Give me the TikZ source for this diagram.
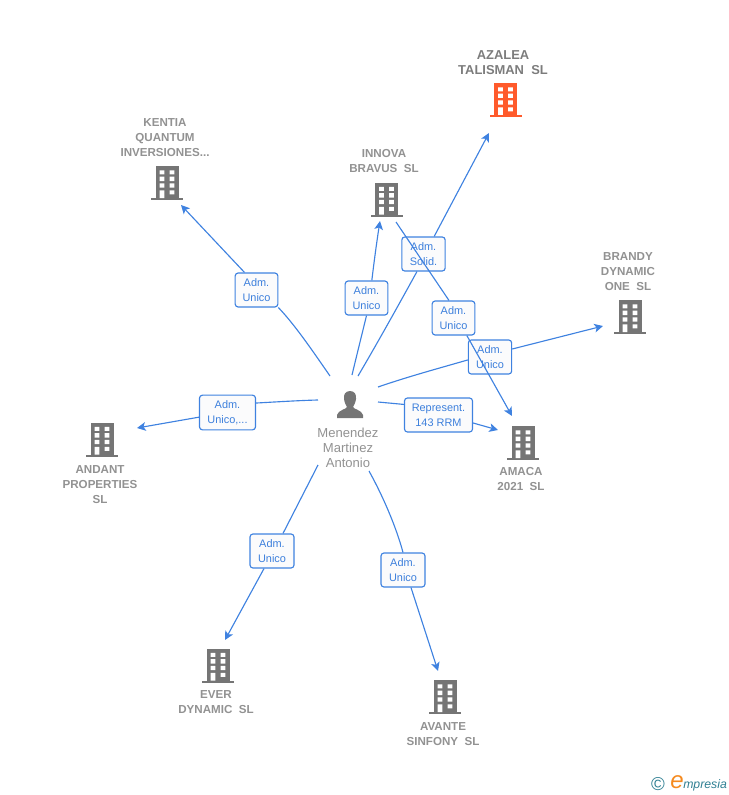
\documentclass[tikz,border=0pt]{standalone}
\usepackage{fontspec}
\setmainfont{Liberation Sans}
\usetikzlibrary{arrows.meta}
\definecolor{linkblue}{HTML}{3F82E0}
\definecolor{txtblue}{HTML}{3C7FDC}
\definecolor{labgrey}{HTML}{929292}
\definecolor{icongrey}{HTML}{757575}
\definecolor{iconred}{HTML}{FF5A2B}
\definecolor{logoteal}{HTML}{2F7F92}
\definecolor{logoorange}{HTML}{F58A1F}
\definecolor{boxfill}{HTML}{FBFBFC}
\tikzset{
  x=0.75pt,y=-0.75pt,
  link/.style={draw=linkblue,line width=0.85pt},
  tip/.style={link,-{Stealth[length=6.5pt,width=6.5pt,inset=1.6pt]}},
  tag/.style={draw=linkblue,line width=0.85pt,rounded corners=2.2pt,fill=boxfill,
    text=txtblue,font=\fontsize{8.2}{11.25}\selectfont,align=center,inner sep=0pt},
  name lab/.style={text=labgrey,font=\fontsize{8.7}{11.25}\selectfont\bfseries,align=center,inner sep=0pt},
  main lab/.style={name lab,text=labgrey!85!black,font=\fontsize{9.7}{11.25}\selectfont\bfseries},
  person lab/.style={text=labgrey,font=\fontsize{9.8}{11.25}\selectfont,align=center,inner sep=0pt},
  pics/bldg/.style={code={
    \fill[#1] (-11.5,-17) rectangle (11.5,15);
    \fill[#1] (-16,15) rectangle (16,17);
    \fill[white] (-7.3,-12.7) rectangle (-2.6,-8.7) (2.7,-12.7) rectangle (7.4,-8.7)
      (-7.3,-6.3) rectangle (-2.6,-2) (2.7,-6.3) rectangle (7.4,-2)
      (-7.3,0.3) rectangle (-2.6,4.7) (2.7,0.3) rectangle (7.4,4.7)
      (-7.3,7.3) rectangle (-2.6,15) (2.7,7.3) rectangle (7.4,11.3);
  }},
}
\begin{document}
\begin{tikzpicture}
\useasboundingbox (0,0) rectangle (728,795);
% free ends
\coordinate (sKentia) at (330,376);
\coordinate (sInnova) at (352,375);
\coordinate (sAzalea) at (358,376);
\coordinate (sBrandy) at (378,387);
\coordinate (sAmaca) at (378,402);
\coordinate (sAndant) at (318,400);
\coordinate (sEver) at (318,465);
\coordinate (sAvante) at (369,471);
\coordinate (tKentia) at (181,205);
\coordinate (tInnova) at (380,221);
\coordinate (tAzalea) at (489,133);
\coordinate (tBrandy) at (603,326);
\coordinate (tAmacaA) at (498,430);
\coordinate (tAmacaB) at (512,416);
\coordinate (tAndant) at (137,428);
\coordinate (tEver) at (225,640);
\coordinate (tAvante) at (438,671);
\coordinate (sInnovaOut) at (396,222);
% icons
\pic at (505.5,100) {bldg=iconred};
\pic at (386.5,199.5) {bldg=icongrey};
\pic at (167,183) {bldg=icongrey};
\pic at (630,317) {bldg=icongrey};
\pic at (523,443) {bldg=icongrey};
\pic at (102,439.5) {bldg=icongrey};
\pic at (218,665.5) {bldg=icongrey};
\pic at (445,697) {bldg=icongrey};
% person icon
\fill[icongrey] (350,391) .. controls (345,391) and (343.5,395) .. (344,399)
  .. controls (344.5,403) and (346,405) .. (347,407)
  .. controls (347,409) and (338,410) .. (337,415)
  -- (337,418) -- (363,418) -- (363,415)
  .. controls (362,410) and (353,409) .. (353,407)
  .. controls (354,405) and (355.5,403) .. (356,399)
  .. controls (356.5,395) and (355,391) .. (350,391) -- cycle;
% labels of the nodes
\node[main lab] (azalea) at (503,63) {AZALEA\\TALISMAN\ \ SL};
\node[name lab] (innova) at (384,161) {INNOVA\\BRAVUS\ \ SL};
\node[name lab] (kentia) at (165,137.5) {KENTIA\\QUANTUM\\INVERSIONES...};
\node[name lab] (brandy) at (628,271.5) {BRANDY\\DYNAMIC\\ONE\ \ SL};
\node[name lab] (amaca) at (521,479) {AMACA\\2021\ \ SL};
\node[name lab] (andant) at (100,484.5) {ANDANT\\PROPERTIES\\SL};
\node[name lab] (ever) at (216,702) {EVER\\DYNAMIC\ \ SL};
\node[name lab] (avante) at (443,734) {AVANTE\\SINFONY\ \ SL};
\node[person lab] (person) at (348,448) {Menendez\\Martinez\\Antonio};
% tags and links, in the order they overlap
\node[tag,minimum width=32pt,minimum height=25.5pt] (lKentia) at (256.5,290) {Adm.\\Unico};
\draw[link] (sKentia) .. controls (312,350) and (295,325) .. (lKentia.south east);
\draw[tip] ([xshift=-9pt]lKentia.north) -- (tKentia);
\node[tag,minimum width=32pt,minimum height=25.5pt] (lInnova) at (366.5,298) {Adm.\\Unico};
\draw[link] (sInnova) .. controls (358,350) and (363,330) .. (lInnova.south);
\draw[tip] ([xshift=4pt]lInnova.north) .. controls (374,262) and (377,240) .. (tInnova);
\node[tag,minimum width=32.5pt,minimum height=25.5pt] (lAzalea) at (423.5,254) {Adm.\\Solid.};
\draw[link] (sAzalea) .. controls (378,342) and (398,306) .. ([xshift=-4.9pt]lAzalea.south);
\draw[tip] ([xshift=8pt]lAzalea.north) -- (tAzalea);
\node[tag,minimum width=32.5pt,minimum height=25.5pt] (lBrandy) at (490,357) {Adm.\\Unico};
\draw[link] (sBrandy) .. controls (410,376) and (440,368) .. ([yshift=-2.2pt]lBrandy.west);
\draw[tip] ([yshift=6pt]lBrandy.east) -- (tBrandy);
\node[tag,minimum width=32pt,minimum height=25.5pt] (lAmacaB) at (453.5,318) {Adm.\\Unico};
\draw[link] (sInnovaOut) -- ([xshift=-3.4pt]lAmacaB.north);
\draw[tip] ([xshift=-6.4pt]lAmacaB.south east) -- (tAmacaB);
\node[tag,minimum width=51pt,minimum height=25.5pt] (lAmaca) at (438.5,415) {Represent.\\143 RRM};
\draw[link] (sAmaca) -- ([yshift=-5.25pt]lAmaca.north west);
\draw[tip] ([yshift=-6pt]lAmaca.east) -- (tAmacaA);
\node[tag,minimum width=42pt,minimum height=26pt] (lAndant) at (227.5,412.5) {Adm.\\Unico,...};
\draw[link] (sAndant) .. controls (298,400.5) and (275,402) .. ([yshift=7.1pt]lAndant.east);
\draw[tip] ([yshift=-3.5pt]lAndant.west) -- (tAndant);
\node[tag,minimum width=33pt,minimum height=25.5pt] (lEver) at (272,551) {Adm.\\Unico};
\draw[link] (sEver) -- ([xshift=8.25pt]lEver.north);
\draw[tip] ([xshift=-6pt]lEver.south) -- (tEver);
\node[tag,minimum width=33pt,minimum height=25.5pt] (lAvante) at (403,570) {Adm.\\Unico};
\draw[link] (sAvante) .. controls (385,500) and (397,530) .. (lAvante.north);
\draw[tip] ([xshift=6pt]lAvante.south) -- (tAvante);
% logo
\node[inner sep=0pt,text=logoteal,font=\fontsize{14}{16}\selectfont] (logoc) at (658,784) {\textcopyright};
\node[inner sep=0pt,text=logoorange,font=\fontsize{18}{18}\selectfont\itshape] (logoe) at (677,782) {e};
\node[inner sep=0pt,anchor=base west,text=logoteal,font=\fontsize{9.2}{10}\selectfont\itshape] (logot) at (683,788) {mpresia};
\end{tikzpicture}
\end{document}
